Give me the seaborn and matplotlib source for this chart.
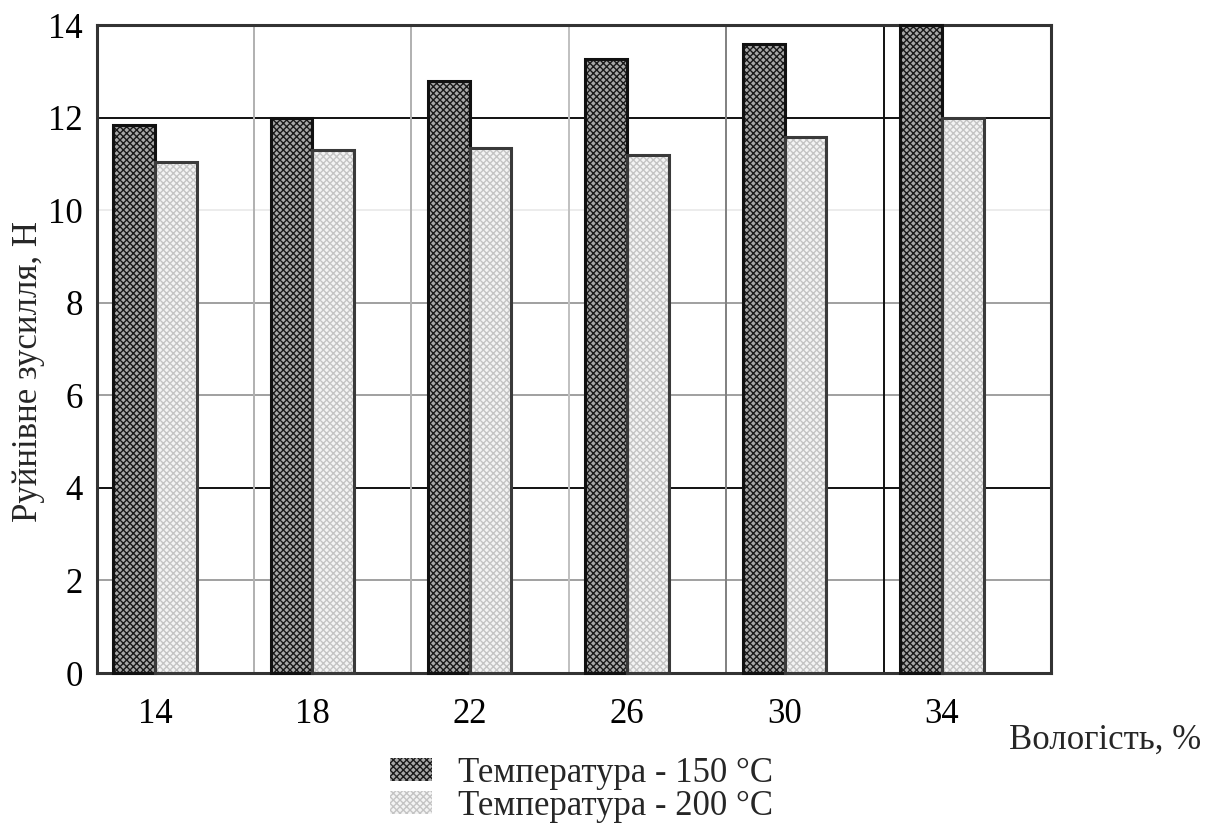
import numpy as np
import pandas as pd
import matplotlib
matplotlib.use("Agg")
import matplotlib.pyplot as plt
from matplotlib.patches import Patch, Rectangle
import seaborn as sns

# ---- data ----
moisture = ["14", "18", "22", "26", "30", "34"]
force_150 = [11.84, 12.0, 12.78, 13.26, 13.59, 14.0]
force_200 = [11.03, 11.29, 11.35, 11.19, 11.58, 12.0]
series_labels = ["Температура - 150 °C", "Температура - 200 °C"]
y_ticks = [0, 2, 4, 6, 8, 10, 12, 14]

df = pd.DataFrame({
    "moisture": moisture * 2,
    "force": force_150 + force_200,
    "series": [series_labels[0]] * len(moisture) + [series_labels[1]] * len(moisture),
})

sns.set_theme(style="white")
plt.rcParams["font.family"] = ["Liberation Serif", "DejaVu Serif"]
plt.rcParams["hatch.linewidth"] = 1.0

W, H = 1214, 823
fig = plt.figure(figsize=(W / 100, H / 100), dpi=100)
ax = fig.add_axes([97 / W, (H - 673) / H, (1051 - 97) / W, (673 - 25) / H])

sns.barplot(data=df, x="moisture", y="force", hue="series", order=moisture,
            hue_order=series_labels, width=0.53, dodge=True, ax=ax,
            palette=["#b0b0b0", "#f0f0f0"], legend=False, zorder=3)

styles = [
    dict(face="#a8a8a8", hatchc="#1a1a1a", edge="#111111"),
    dict(face="#f4f4f4", hatchc="#c4c4c4", edge="#3a3a3a"),
]
bars = list(ax.patches)
n = len(moisture)
for i, p in enumerate(bars):
    st = styles[i // n]
    p.set_facecolor(st["face"])
    p.set_edgecolor(st["hatchc"])
    p.set_hatch("xxxxx")
    p.set_linewidth(0)
    ax.add_patch(Rectangle(p.get_xy(), p.get_width(), p.get_height(), fill=False,
                           edgecolor=st["edge"], linewidth=2.2, zorder=4, clip_on=False))

ax.set_ylim(0, 14)
ax.set_xlim(-0.368, 5.693)
ax.set_yticks(y_ticks)
ax.set_yticklabels([str(t) for t in y_ticks])

# grid lines
hcols = {2: "#a0a0a0", 4: "#111111", 6: "#a0a0a0", 8: "#a0a0a0", 10: "#ececec", 12: "#111111"}
for yv, c in hcols.items():
    ax.axhline(yv, color=c, linewidth=1.4, zorder=1)
vcols = ["#b0b0b0", "#b0b0b0", "#c0c0c0", "#808080", "#111111"]
for i, c in enumerate(vcols):
    ax.axvline(i + 0.63, color=c, linewidth=1.4, zorder=1)

for s in ax.spines.values():
    s.set_visible(True)
    s.set_color("#333333")
    s.set_linewidth(2.2)

ax.tick_params(axis="both", length=0, labelsize=25, colors="black")
ax.tick_params(axis="y", pad=10)
ax.tick_params(axis="x", pad=18)

ax.set_xlabel("Вологість, %", fontsize=25)
ax.xaxis.set_label_coords(1.057, -0.103)
ax.xaxis.label.set_va("center")
ax.set_ylabel("Руйнівне зусилля, Н", fontsize=25)
ax.yaxis.set_label_coords(-0.072, 0.465)
ax.yaxis.label.set_va("center")

handles = [Patch(facecolor=styles[k]["face"], edgecolor=styles[k]["hatchc"],
                 hatch="xxxxx", linewidth=0) for k in range(2)]
fig.legend(handles, series_labels, loc="upper left",
           bbox_to_anchor=(390 / W, 1 - 757 / H), frameon=False,
           fontsize=25, handlelength=1.2, handleheight=0.65, handletextpad=0.75,
           labelspacing=0.0, borderpad=0, borderaxespad=0)

fig.savefig("out.png", dpi=100, facecolor="white")
